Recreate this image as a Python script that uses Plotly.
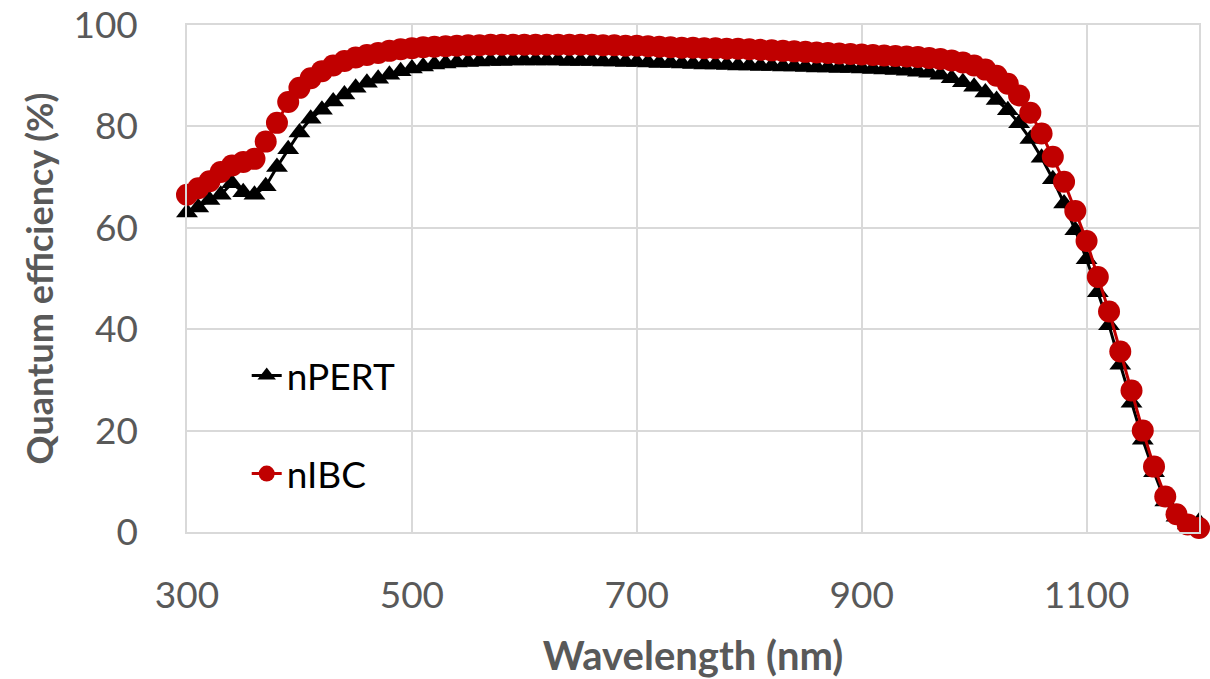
import plotly.graph_objects as go

wavelength = list(range(300, 1201, 10))

npert = [
    63.0, 64.0, 65.5, 66.5, 68.8, 67.0, 66.5, 68.2, 72.0, 75.5,   # 300-390
    78.8, 81.5, 83.3, 84.9, 86.3, 87.6, 88.6, 89.4, 90.2, 90.9,   # 400-490
    91.4, 91.8, 92.2, 92.4, 92.6, 92.7, 92.8, 92.9, 92.9, 93.0,   # 500-590
    93.0, 93.0, 93.0, 93.0, 92.9, 92.9, 92.9, 92.8, 92.8, 92.7,   # 600-690
    92.7, 92.6, 92.5, 92.5, 92.4, 92.3, 92.2, 92.2, 92.1, 92.0,   # 700-790
    92.0, 91.9, 91.9, 91.8, 91.8, 91.7, 91.6, 91.6, 91.5, 91.5,   # 800-890
    91.4, 91.3, 91.2, 91.1, 91.0, 90.8, 90.6, 90.2, 89.5, 88.7,   # 900-990
    87.8, 86.7, 85.2, 83.2, 80.6, 77.5, 73.8, 69.6, 64.8, 59.5,   # 1000-1090
    53.8, 47.3, 40.8, 33.0, 25.5, 18.2, 11.8, 6.0, 3.0, 1.5,      # 1100-1190
    2.0,                                                          # 1200
]

nibc = [
    66.5, 67.8, 69.2, 71.0, 72.3, 73.0, 73.6, 77.0, 80.7, 84.8,   # 300-390
    87.6, 89.5, 90.9, 92.0, 92.9, 93.6, 94.1, 94.5, 94.9, 95.2,   # 400-490
    95.4, 95.6, 95.7, 95.8, 95.9, 96.0, 96.0, 96.1, 96.1, 96.1,   # 500-590
    96.1, 96.1, 96.1, 96.1, 96.1, 96.1, 96.1, 96.0, 96.0, 95.9,   # 600-690
    95.9, 95.8, 95.7, 95.6, 95.5, 95.5, 95.4, 95.4, 95.3, 95.3,   # 700-790
    95.2, 95.1, 95.0, 94.9, 94.8, 94.7, 94.6, 94.5, 94.4, 94.3,   # 800-890
    94.2, 94.1, 94.0, 93.9, 93.8, 93.7, 93.5, 93.3, 93.0, 92.6,   # 900-990
    92.0, 91.2, 90.0, 88.4, 86.1, 82.7, 78.6, 74.0, 69.1, 63.3,   # 1000-1090
    57.4, 50.3, 43.5, 35.6, 27.9, 20.0, 12.9, 7.0, 3.5, 1.5,      # 1100-1190
    0.8,                                                          # 1200
]

x_ticks = [300, 500, 700, 900, 1100]
y_ticks = [0, 20, 40, 60, 80, 100]

FONT = "Lato"
GREY = "#595959"
GRID = "#D9D9D9"

fig = go.Figure()
fig.add_trace(go.Scatter(
    x=wavelength, y=npert, name="nPERT", mode="lines+markers",
    line=dict(color="black", width=3),
    marker=dict(symbol="triangle-up", size=19, color="black"),
    legendgroup="a", cliponaxis=False,
))
fig.add_trace(go.Scatter(
    x=wavelength, y=nibc, name="nIBC", mode="lines+markers",
    line=dict(color="#C00000", width=3),
    marker=dict(symbol="circle", size=22, color="#C00000"),
    legendgroup="b", cliponaxis=False,
))

fig.update_layout(
    width=1210, height=679,
    margin=dict(l=187, r=11, t=25, b=147, autoexpand=False),
    plot_bgcolor="white", paper_bgcolor="white",
    font=dict(family=FONT, color=GREY, size=37),
    legend=dict(
        x=0.059, y=0.369, xanchor="left", yanchor="top",
        bgcolor="rgba(0,0,0,0)", tracegroupgap=47,
        font=dict(family=FONT, size=37, color="black"),
    ),
    xaxis=dict(
        range=[300, 1200], tickvals=x_ticks, ticktext=[str(v) for v in x_ticks],
        showgrid=True, gridcolor=GRID, gridwidth=1.5,
        showline=True, linecolor=GRID, linewidth=1.5, mirror=True,
        zeroline=False, ticks="", ticklen=0, ticklabelstandoff=30,
        tickfont=dict(family=FONT, size=37, color=GREY),
        title=dict(text="<b>Wavelength (nm)</b>", font=dict(family=FONT, size=40, color=GREY), standoff=29),
    ),
    yaxis=dict(
        range=[0, 100], tickvals=y_ticks,
        showgrid=True, gridcolor=GRID, gridwidth=1.5,
        showline=True, linecolor=GRID, linewidth=1.5, mirror=True,
        zeroline=False, ticks="", ticklen=0, ticklabelstandoff=40,
        tickfont=dict(family=FONT, size=37, color=GREY),
        title=dict(text="<b>Quantum efficiency (%)</b>", font=dict(family=FONT, size=36, color=GREY), standoff=9),
    ),
)

fig.write_html("out.html")
